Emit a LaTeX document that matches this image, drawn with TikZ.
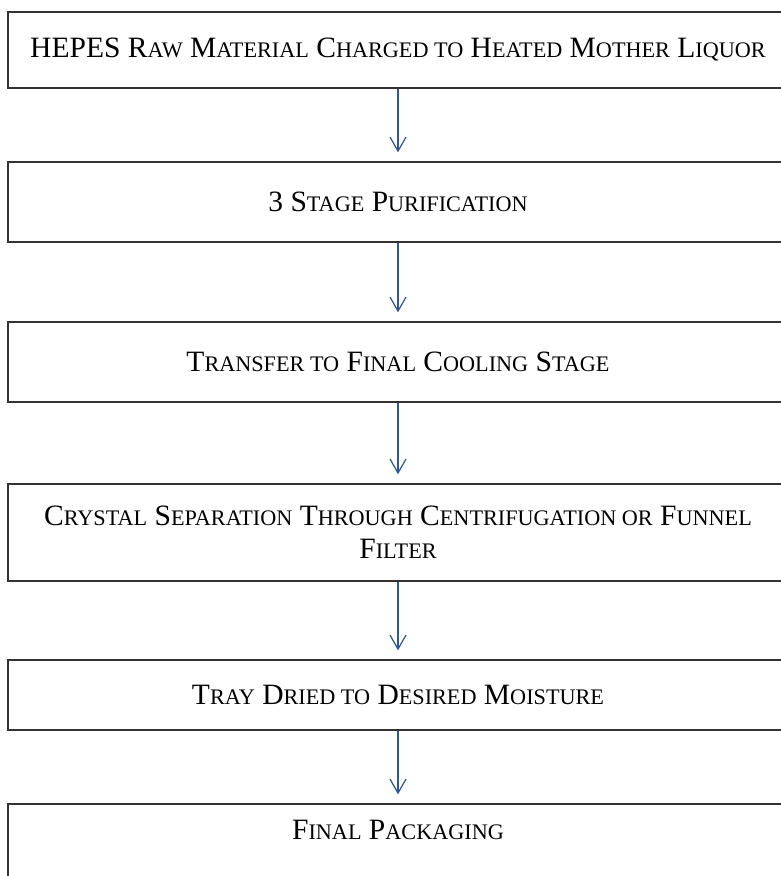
\documentclass[tikz,border=0pt]{standalone}
\usepackage{fontspec}
\setmainfont{Liberation Serif}
\usetikzlibrary{arrows.meta}
\definecolor{flowblue}{RGB}{46,88,150}
\newcommand\sm[1]{{\fontsize{15.8pt}{23.4pt}\selectfont #1}}

\begin{document}
\begin{tikzpicture}[
	stepbox/.style={draw=black!80, line width=1.2pt, minimum width=19.5cm, inner sep=0pt, align=center, font=\fontsize{21pt}{23.4pt}\selectfont},
	flow/.style={draw=flowblue, line width=0.9pt, -{Straight Barb[length=3.5mm,width=4mm]}, shorten >=0.22cm}
	]
		\useasboundingbox (0,0) rectangle (19.525,-21.9);
		\clip (0,0) rectangle (19.525,-21.9);
		%流程框
		\draw (9.95,-1.25) node[stepbox, minimum height=1.9cm](b1){HEPES R\sm{AW} M\sm{ATERIAL} C\sm{HARGED TO} H\sm{EATED} M\sm{OTHER} L\sm{IQUOR}};
		\draw (9.95,-5.05) node[stepbox, minimum height=2cm](b2){3 S\sm{TAGE} P\sm{URIFICATION}};
		\draw (9.95,-9.05) node[stepbox, minimum height=2cm](b3){T\sm{RANSFER TO} F\sm{INAL} C\sm{OOLING} S\sm{TAGE}};
		\draw (9.95,-13.31) node[stepbox, minimum height=2.425cm](b4){C\sm{RYSTAL} S\sm{EPARATION} T\sm{HROUGH} C\sm{ENTRIFUGATION OR} F\sm{UNNEL}\\F\sm{ILTER}};
		\draw (9.95,-17.375) node[stepbox, minimum height=1.75cm](b5){T\sm{RAY} D\sm{RIED TO} D\sm{ESIRED} M\sm{OISTURE}};
		\draw (9.95,-21.3) node[stepbox, minimum height=2.4cm, text depth=1.1cm](b6){F\sm{INAL} P\sm{ACKAGING}};
		%箭头
		\draw[flow] (b1.south) -- (b2.north);
		\draw[flow] (b2.south) -- (b3.north);
		\draw[flow] (b3.south) -- (b4.north);
		\draw[flow] (b4.south) -- (b5.north);
		\draw[flow] (b5.south) -- (b6.north);
	\end{tikzpicture}
\end{document}
